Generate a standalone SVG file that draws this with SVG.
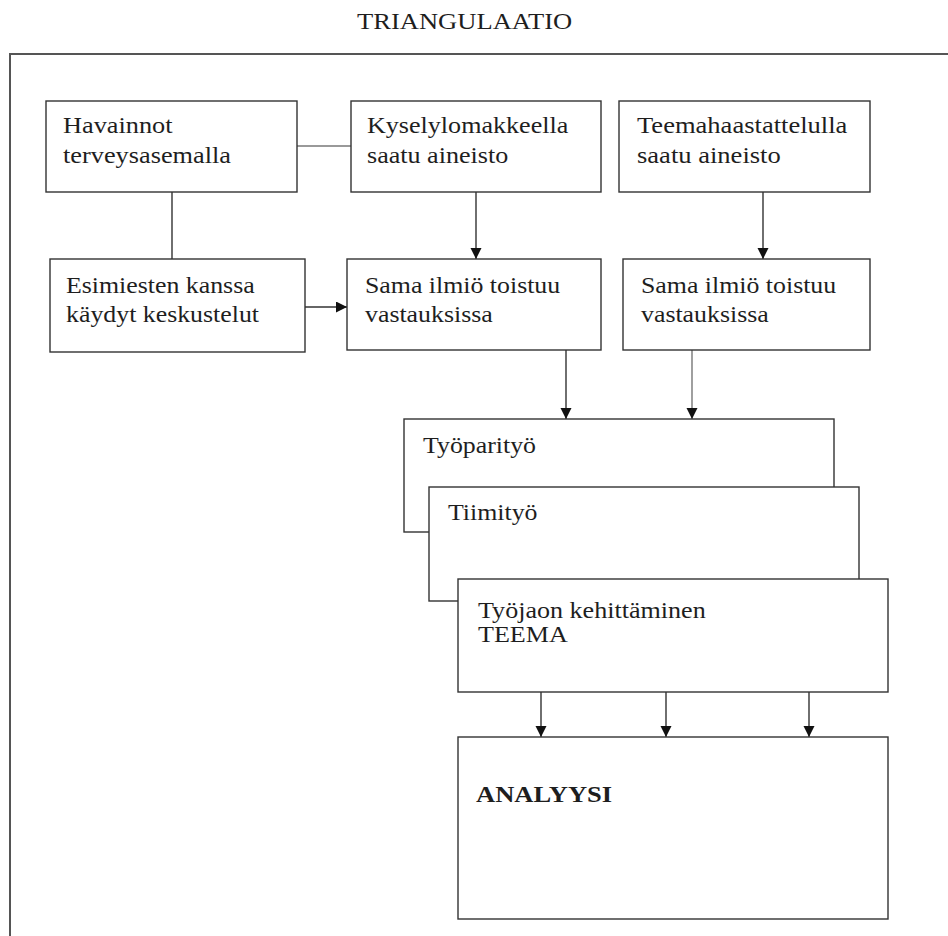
<svg xmlns="http://www.w3.org/2000/svg" width="948" height="936" viewBox="0 0 948 936">
<style>
  .box { fill: #ffffff; stroke: #333333; stroke-width: 1.4; }
  .frame { fill: none; stroke: #555555; stroke-width: 2; }
  .t { font-family: "Liberation Serif", "Times New Roman", serif; font-size: 23.5px; fill: #1e1e1e; }
  .b { font-weight: bold; }
  .ln { stroke: #333333; stroke-width: 1.4; fill: none; }
  .lg { stroke: #777777; stroke-width: 1.4; fill: none; }
  .ar { marker-end: url(#arrow); }
</style>
<defs>
  <marker id="arrow" markerUnits="userSpaceOnUse" markerWidth="12" markerHeight="12" refX="11" refY="5.5" orient="auto">
    <path d="M0,0 L11,5.5 L0,11 z" fill="#111111"/>
  </marker>
</defs>
<rect width="948" height="936" fill="#ffffff"/>
<text class="t" transform="translate(357 29) scale(1.13 1)">TRIANGULAATIO</text>
<rect class="frame" x="10" y="54" width="1000" height="1000"/>

<g id="connectors">
  <line class="lg" x1="297" y1="146" x2="351" y2="146"/>
  <line class="ln" x1="172" y1="192" x2="172" y2="259"/>
  <line class="ln ar" x1="305" y1="307" x2="347" y2="307"/>
  <line class="ln ar" x1="476" y1="192" x2="476" y2="259"/>
  <line class="ln ar" x1="763" y1="192" x2="763" y2="259"/>
  <line class="ln ar" x1="566" y1="350" x2="566" y2="419"/>
  <line class="lg ar" x1="692" y1="350" x2="692" y2="419"/>
  <line class="ln ar" x1="541" y1="692" x2="541" y2="737"/>
  <line class="ln ar" x1="666" y1="692" x2="666" y2="737"/>
  <line class="ln ar" x1="809" y1="692" x2="809" y2="737"/>
</g>

<g id="havainnot">
  <rect class="box" x="46" y="101" width="251" height="91"/>
  <text class="t" transform="translate(63 133) scale(1.12 1)"><tspan x="0" y="0">Havainnot</tspan><tspan x="0" y="30">terveysasemalla</tspan></text>
</g>
<g id="kysely">
  <rect class="box" x="351" y="101" width="250" height="91"/>
  <text class="t" transform="translate(367 133) scale(1.11 1)"><tspan x="0" y="0">Kyselylomakkeella</tspan><tspan x="0" y="30">saatu aineisto</tspan></text>
</g>
<g id="teema">
  <rect class="box" x="619" y="101" width="251" height="91"/>
  <text class="t" transform="translate(637 133) scale(1.13 1)"><tspan x="0" y="0">Teemahaastattelulla</tspan><tspan x="0" y="30">saatu aineisto</tspan></text>
</g>
<g id="esimiesten">
  <rect class="box" x="50" y="259" width="255" height="93"/>
  <text class="t" transform="translate(66 293) scale(1.1 1)"><tspan x="0" y="0">Esimiesten kanssa</tspan><tspan x="0" y="29">käydyt keskustelut</tspan></text>
</g>
<g id="sama1">
  <rect class="box" x="347" y="259" width="254" height="91"/>
  <text class="t" transform="translate(365 293) scale(1.1 1)"><tspan x="0" y="0">Sama ilmiö toistuu</tspan><tspan x="0" y="29">vastauksissa</tspan></text>
</g>
<g id="sama2">
  <rect class="box" x="623" y="259" width="247" height="91"/>
  <text class="t" transform="translate(641 293) scale(1.1 1)"><tspan x="0" y="0">Sama ilmiö toistuu</tspan><tspan x="0" y="29">vastauksissa</tspan></text>
</g>
<g id="tyoparityo">
  <rect class="box" x="404" y="419" width="430" height="113"/>
  <text class="t" transform="translate(423 453) scale(1.1 1)">Työparityö</text>
</g>
<g id="tiimityo">
  <rect class="box" x="429" y="487" width="430" height="114"/>
  <text class="t" transform="translate(448 520) scale(1.1 1)">Tiimityö</text>
</g>
<g id="tyojaon">
  <rect class="box" x="458" y="579" width="430" height="113"/>
  <text class="t" transform="translate(478 618) scale(1.11 1)"><tspan x="0" y="0">Työjaon kehittäminen</tspan><tspan x="0" y="24">TEEMA</tspan></text>
</g>
<g id="analyysi">
  <rect class="box" x="458" y="737" width="430" height="182"/>
  <text class="t b" transform="translate(476 802) scale(1.13 1)">ANALYYSI</text>
</g>
</svg>
